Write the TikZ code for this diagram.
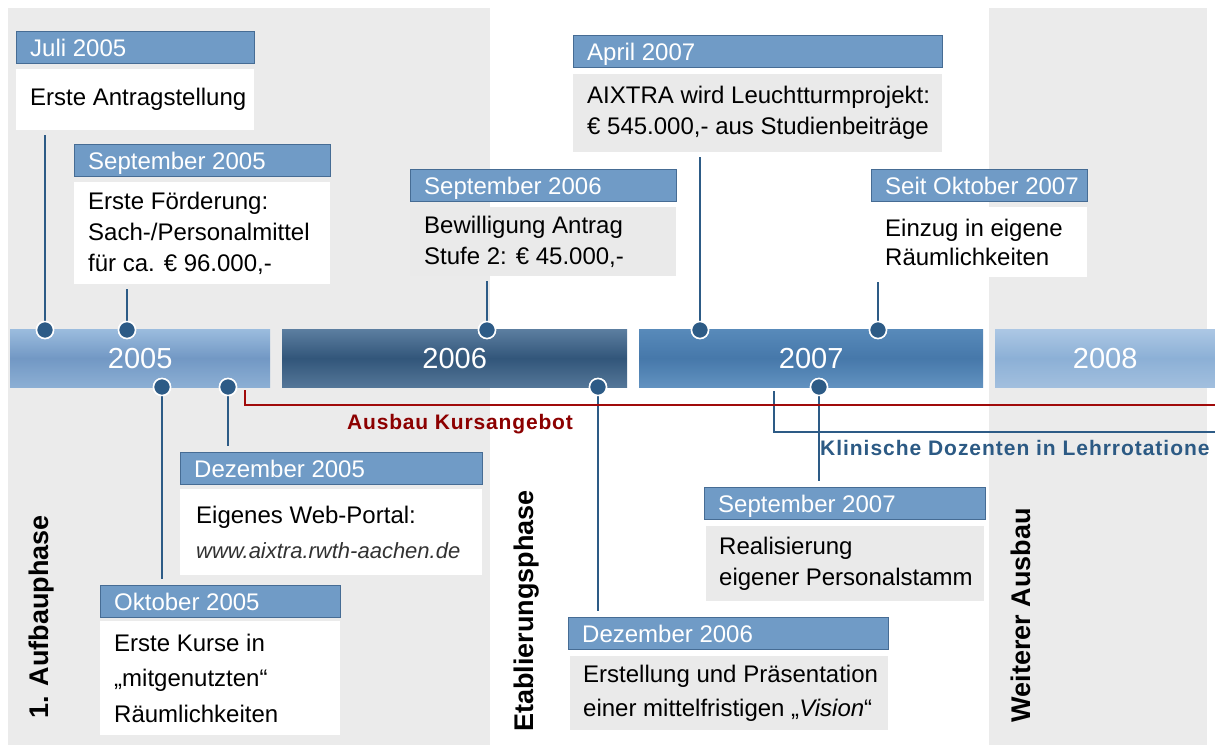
\documentclass[tikz,border=0pt]{standalone}
\usepackage{fontspec}
\setmainfont{Liberation Sans}
\newfontfamily\lblfont[LetterSpace=4]{Liberation Sans}
\newfontfamily\klinfont[LetterSpace=4.6]{Liberation Sans}
\usetikzlibrary{calc}
\definecolor{panel}{RGB}{235,235,235}
\definecolor{hdrfill}{RGB}{112,155,198}
\definecolor{hdrline}{RGB}{70,108,148}
\definecolor{bodygray}{RGB}{234,234,234}
\definecolor{conn}{RGB}{45,91,134}
\definecolor{darkred}{RGB}{140,0,0}
\definecolor{redln}{RGB}{160,10,10}
\definecolor{klin}{RGB}{44,90,132}
\definecolor{urlgray}{RGB}{50,50,50}
\definecolor{aT}{RGB}{155,188,222}\definecolor{aM}{RGB}{114,152,196}\definecolor{aB}{RGB}{140,175,212}
\definecolor{bT}{RGB}{92,126,160}\definecolor{bM}{RGB}{50,86,122}\definecolor{bB}{RGB}{84,118,152}
\definecolor{cT}{RGB}{88,138,186}\definecolor{cM}{RGB}{70,120,170}\definecolor{cB}{RGB}{98,146,192}
\definecolor{dT}{RGB}{172,199,228}\definecolor{dM}{RGB}{140,176,214}\definecolor{dB}{RGB}{162,191,222}
\tikzset{
  hbox/.style={anchor=north west, minimum height=32, draw=hdrline, fill=hdrfill, line width=1pt, inner sep=0},
  htext/.style={anchor=west, text=white, inner sep=0, font=\fontsize{24}{28}\selectfont, text height=17.5pt, text depth=0pt},
  bbox/.style={anchor=north west, inner sep=0},
  btext/.style={anchor=west, align=left, inner sep=0, font=\fontsize{24}{31}\selectfont},
  bar/.style={anchor=north west, minimum height=58, inner sep=0, text=white, font=\fontsize{29}{34}\selectfont, text height=20.5pt, text depth=0pt},
  dot/.style={circle, fill=conn, draw=white, line width=1.5pt, minimum size=17, inner sep=0},
  connline/.style={draw=conn, line width=2.5pt},
  phase/.style={rotate=90, inner sep=0, font=\bfseries\fontsize{27}{30}\selectfont},
  lbl/.style={inner sep=0, font=\lblfont\bfseries\fontsize{21}{25}\selectfont}
}
\begin{document}
\begin{tikzpicture}[x=1pt,y=-1pt]
\useasboundingbox[fill=white] (0,0) rectangle (1215,747);
% phase panels
\fill[panel] (8,8) rectangle (490,745);
\fill[panel] (989,8) rectangle (1207,745);
% year bars
\node[bar, minimum width=260, top color=aT, bottom color=aB, middle color=aM] (y5) at (10,329) {2005};
\node[bar, minimum width=345, top color=bT, bottom color=bB, middle color=bM] (y6) at (282,329) {2006};
\node[bar, minimum width=344, top color=cT, bottom color=cB, middle color=cM] (y7) at (639,329) {2007};
\node[bar, minimum width=220, top color=dT, bottom color=dB, middle color=dM] (y8) at (995,329) {2008};
% dots
\node[dot] (d1) at (45,330) {};
\node[dot] (d2) at (127,330) {};
\node[dot] (d3) at (487,330) {};
\node[dot] (d4) at (700,330) {};
\node[dot] (d5) at (878,330) {};
\node[dot] (d6) at (162,387) {};
\node[dot] (d7) at (228,387) {};
\node[dot] (d8) at (598,387) {};
\node[dot] (d9) at (819,387) {};
% event boxes
% Juli 2005
\node[hbox, minimum width=238] (h1) at (16,31) {};
\node[htext] (h1t) at ($(h1.west)+(14,0)$) {Juli 2005};
\node[bbox, fill=white, minimum width=238, minimum height=61] (b1) at (16,69) {};
\node[btext] (b1t) at ($(b1.west)+(14,0)$) {Erste Antragstellung};
% September 2005
\node[hbox, minimum width=256] (h2) at (74,144) {};
\node[htext] (h2t) at ($(h2.west)+(14,0)$) {September 2005};
\node[bbox, fill=white, minimum width=256, minimum height=102] (b2) at (74,182) {};
\node[btext] (b2t) at ($(b2.west)+(14,0)$) {Erste Förderung:\\Sach-/Personalmittel\\für ca. € 96.000,-};
% September 2006
\node[hbox, minimum width=266] (h3) at (410,169) {};
\node[htext] (h3t) at ($(h3.west)+(14,0)$) {September 2006};
\node[bbox, fill=bodygray, minimum width=266, minimum height=69] (b3) at (410,207) {};
\node[btext] (b3t) at ($(b3.west)+(14,0)$) {Bewilligung Antrag\\Stufe 2: € 45.000,-};
% April 2007
\node[hbox, minimum width=369] (h4) at (573,35) {};
\node[htext] (h4t) at ($(h4.west)+(14,0)$) {April 2007};
\node[bbox, fill=bodygray, minimum width=369, minimum height=78] (b4) at (573,74) {};
\node[btext] (b4t) at ($(b4.west)+(14,0)$) {AIXTRA wird Leuchtturmprojekt:\\€ 545.000,- aus Studienbeiträge};
% Seit Oktober 2007
\node[hbox, minimum width=216] (h5) at (871,169) {};
\node[htext] (h5t) at ($(h5.west)+(14,0)$) {Seit Oktober 2007};
\node[bbox, fill=white, minimum width=216, minimum height=70] (b5) at (871,207) {};
\node[btext, font=\fontsize{24}{29}\selectfont] (b5t) at ($(b5.west)+(14,0)$) {Einzug in eigene\\Räumlichkeiten};
% Dezember 2005
\node[hbox, minimum width=302] (h6) at (180,452) {};
\node[htext] (h6t) at ($(h6.west)+(14,0)$) {Dezember 2005};
\node[bbox, fill=white, minimum width=302, minimum height=86] (b6) at (180,489) {};
\node[btext, font=\fontsize{24}{35}\selectfont] (b6t) at ($(b6.west)+(16,0)$) {Eigenes Web-Portal:\\{\color{urlgray}\itshape\fontsize{22}{35}\selectfont www.aixtra.rwth-aachen.de}};
% Oktober 2005
\node[hbox, minimum width=240] (h7) at (100,585) {};
\node[htext] (h7t) at ($(h7.west)+(14,0)$) {Oktober 2005};
\node[bbox, fill=white, minimum width=240, minimum height=114] (b7) at (100,621) {};
\node[btext, font=\fontsize{24}{35.5}\selectfont] (b7t) at ($(b7.west)+(14,0)$) {Erste Kurse in\\„mitgenutzten“\\Räumlichkeiten};
% September 2007
\node[hbox, minimum width=281] (h8) at (704,487) {};
\node[htext] (h8t) at ($(h8.west)+(14,0)$) {September 2007};
\node[bbox, fill=bodygray, minimum width=278, minimum height=75] (b8) at (706,526) {};
\node[btext] (b8t) at ($(b8.west)+(13,0)$) {Realisierung\\eigener Personalstamm};
% Dezember 2006
\node[hbox, minimum width=320] (h9) at (568,617) {};
\node[htext] (h9t) at ($(h9.west)+(14,0)$) {Dezember 2006};
\node[bbox, fill=bodygray, minimum width=318, minimum height=74] (b9) at (570,656) {};
\node[btext, font=\fontsize{24}{34}\selectfont] (b9t) at ($(b9.west)+(13,0)$) {Erstellung und Präsentation\\einer mittelfristigen „\textit{Vision}“};
% connectors
\draw[connline] ($(b1.south -| d1)+(0,5)$) -- (d1.center);
\draw[connline] ($(b2.south -| d2)+(0,5)$) -- (d2.center);
\draw[connline] ($(b3.south -| d3)+(0,5)$) -- (d3.center);
\draw[connline] ($(b4.south -| d4)+(0,5)$) -- (d4.center);
\draw[connline] ($(b5.south -| d5)+(0,5)$) -- (d5.center);
\draw[connline] (d6.center) -- ($(h7.north -| d6)+(0,-6)$);
\draw[connline] (d7.center) -- ($(h6.north -| d7)+(0,-6)$);
\draw[connline] (d8.center) -- ($(h9.north -| d8)+(0,-6)$);
\draw[connline] (d9.center) -- ($(h8.north -| d9)+(0,-6)$);
% redraw dots above their lines
\foreach \d in {d1,d2,d3,d4,d5,d6,d7,d8,d9}{\fill[conn, draw=white, line width=1.5pt] (\d.center) circle (8.5);}
% ongoing lines
\coordinate (r0) at (245,390);
\coordinate (r1) at (1215,405);
\coordinate (k0) at (774,391);
\coordinate (k1) at (1215,432);
\draw[conn, line width=2pt] (k0) |- (k1);
\draw[redln, line width=2.2pt] (r0) |- (r1);
\node[lbl, text=darkred] (kurs) at (460,424) {Ausbau Kursangebot};
\node[inner sep=0, text=klin, anchor=west, font=\klinfont\bfseries\fontsize{21}{25}\selectfont] (klin) at (820,448) {Klinische Dozenten in Lehrrotatione};
% phase labels
\node[phase] (p1) at (42,617) {1. Aufbauphase};
\node[phase] (p2) at (527,611) {Etablierungsphase};
\node[phase] (p3) at (1021,615) {Weiterer Ausbau};
\end{tikzpicture}
\end{document}
